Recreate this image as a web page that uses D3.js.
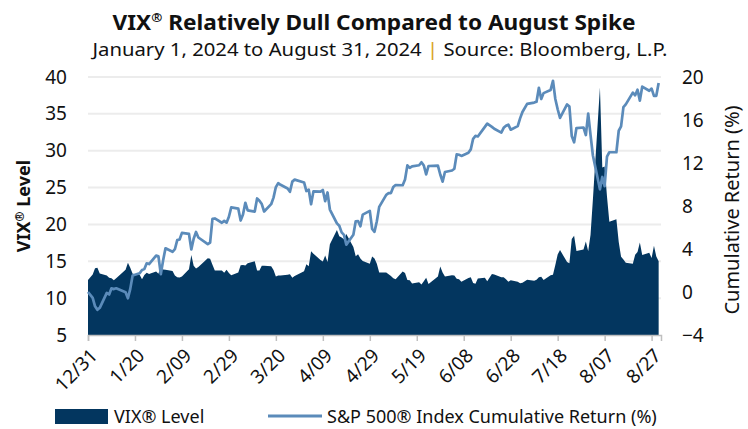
<!DOCTYPE html>
<html>
<head>
<meta charset="utf-8">
<script src="https://cdn.jsdelivr.net/npm/d3@7"></script>
<style>
  body { margin: 0; background: #fff; }
  text { font-family: "Noto Sans", "Open Sans", sans-serif; fill: #111; }
</style>
</head>
<body>
<div id="chart"></div>
<script>
// trading days (first row is the 12/31 base point)
const dates = [
  "2023-12-31",
  "2024-01-02","2024-01-03","2024-01-04","2024-01-05","2024-01-08","2024-01-09","2024-01-10","2024-01-11","2024-01-12",
  "2024-01-16","2024-01-17","2024-01-18","2024-01-19","2024-01-22","2024-01-23","2024-01-24","2024-01-25","2024-01-26",
  "2024-01-29","2024-01-30","2024-01-31",
  "2024-02-01","2024-02-02","2024-02-05","2024-02-06","2024-02-07","2024-02-08","2024-02-09","2024-02-12","2024-02-13",
  "2024-02-14","2024-02-15","2024-02-16","2024-02-20","2024-02-21","2024-02-22","2024-02-23","2024-02-26","2024-02-27",
  "2024-02-28","2024-02-29",
  "2024-03-01","2024-03-04","2024-03-05","2024-03-06","2024-03-07","2024-03-08","2024-03-11","2024-03-12","2024-03-13",
  "2024-03-14","2024-03-15","2024-03-18","2024-03-19","2024-03-20","2024-03-21","2024-03-22","2024-03-25","2024-03-26",
  "2024-03-27","2024-03-28",
  "2024-04-01","2024-04-02","2024-04-03","2024-04-04","2024-04-05","2024-04-08","2024-04-09","2024-04-10","2024-04-11",
  "2024-04-12","2024-04-15","2024-04-16","2024-04-17","2024-04-18","2024-04-19","2024-04-22","2024-04-23","2024-04-24",
  "2024-04-25","2024-04-26","2024-04-29","2024-04-30",
  "2024-05-01","2024-05-02","2024-05-03","2024-05-06","2024-05-07","2024-05-08","2024-05-09","2024-05-10","2024-05-13",
  "2024-05-14","2024-05-15","2024-05-16","2024-05-17","2024-05-20","2024-05-21","2024-05-22","2024-05-23","2024-05-24",
  "2024-05-28","2024-05-29","2024-05-30","2024-05-31",
  "2024-06-03","2024-06-04","2024-06-05","2024-06-06","2024-06-07","2024-06-10","2024-06-11","2024-06-12","2024-06-13",
  "2024-06-14","2024-06-17","2024-06-18","2024-06-20","2024-06-21","2024-06-24","2024-06-25","2024-06-26","2024-06-27",
  "2024-06-28",
  "2024-07-01","2024-07-02","2024-07-03","2024-07-05","2024-07-08","2024-07-09","2024-07-10","2024-07-11","2024-07-12",
  "2024-07-15","2024-07-16","2024-07-17","2024-07-18","2024-07-19","2024-07-22","2024-07-23","2024-07-24","2024-07-25",
  "2024-07-26","2024-07-29","2024-07-30","2024-07-31",
  "2024-08-01","2024-08-02","2024-08-05","2024-08-06","2024-08-07","2024-08-08","2024-08-09","2024-08-12","2024-08-13",
  "2024-08-14","2024-08-15","2024-08-16","2024-08-19","2024-08-20","2024-08-21","2024-08-22","2024-08-23","2024-08-26",
  "2024-08-27","2024-08-28","2024-08-29","2024-08-30"
];

const vix = [
  12.45,
  13.20,14.04,14.13,13.35,13.08,12.76,12.69,12.44,12.70,
  13.84,14.79,14.13,13.30,13.19,12.55,13.14,13.45,13.26,
  13.60,13.31,14.35,
  13.88,13.85,13.67,13.06,12.83,12.79,12.93,13.93,15.85,
  14.38,14.01,14.24,15.42,15.34,14.54,13.75,13.74,13.43,
  13.84,13.40,
  13.11,13.49,14.46,14.50,14.44,14.74,15.01,13.75,13.75,
  14.40,14.41,14.33,13.82,12.92,13.06,13.06,13.19,13.24,
  12.78,13.01,
  13.65,14.61,14.33,16.35,16.03,15.19,14.98,15.80,14.91,
  17.31,19.23,18.40,18.21,18.00,18.71,16.94,15.69,15.97,
  15.37,15.03,14.67,15.65,
  15.39,14.68,13.49,13.49,13.23,13.00,12.69,12.55,13.60,
  13.42,12.45,12.42,11.99,12.15,11.86,12.29,12.77,11.93,
  12.92,14.28,13.49,12.92,
  13.11,13.06,12.63,12.58,12.22,12.74,12.85,12.04,11.94,
  12.66,12.75,12.30,13.28,13.20,12.84,12.84,12.55,12.24,
  12.44,
  12.22,12.03,12.09,12.48,12.37,12.51,12.85,12.91,12.46,
  13.12,13.19,14.48,15.93,16.52,14.91,14.72,18.04,18.46,
  16.39,16.60,17.69,16.36,
  18.59,23.39,38.57,27.71,27.85,23.79,20.37,20.71,17.60,
  15.60,15.23,14.80,14.65,15.88,16.27,17.55,15.86,16.15,
  15.43,17.11,15.65,15.00
];

// S&P 500 cumulative total return, %
const spxReturn = [
  0.00,
  -0.55,-1.33,-1.66,-1.47,-0.08,-0.23,0.34,0.27,0.35,
  -0.02,-0.58,0.29,1.53,1.75,2.05,2.13,2.67,2.60,
  3.39,3.32,1.66,
  2.96,4.07,3.74,3.98,4.83,4.89,5.50,5.40,3.96,
  4.96,5.58,5.07,4.45,4.60,6.80,6.84,6.44,6.62,
  6.45,7.00,
  7.87,7.75,6.65,7.20,8.30,7.60,7.48,8.70,8.49,
  8.18,7.49,8.17,8.78,9.76,10.12,9.97,9.63,9.32,
  10.27,10.45,
  10.19,9.39,9.51,8.16,9.36,9.33,9.49,8.45,9.26,
  7.67,6.38,6.16,5.55,5.32,4.41,5.32,6.58,6.60,
  6.11,7.20,7.55,5.86,
  5.60,6.58,7.92,9.04,9.19,9.20,9.76,9.95,9.93,
  10.47,11.78,11.54,11.68,11.79,12.07,11.77,10.94,11.72,
  11.76,10.93,10.27,11.16,
  11.30,11.47,12.80,12.77,12.66,12.96,13.27,14.25,14.52,
  14.47,15.36,15.66,15.36,15.18,14.83,15.27,15.46,15.57,
  15.10,
  15.43,16.15,16.74,17.50,17.62,17.70,19.00,17.95,18.50,
  18.80,19.65,17.95,17.00,16.20,17.45,17.25,14.50,13.92,
  15.25,15.30,14.60,16.60,
  14.60,12.70,9.55,10.70,9.85,12.60,13.00,13.00,15.00,
  15.40,17.20,17.45,18.55,18.30,18.82,17.80,19.10,18.72,
  18.92,18.25,18.25,19.45
];

const leftTicks = [5, 10, 15, 20, 25, 30, 35, 40];
const rightTicks = [-4, 0, 4, 8, 12, 16, 20];

const margin = {top: 77, right: 87, bottom: 94, left: 88};
const width = 748 - margin.left - margin.right;
const height = 429 - margin.top - margin.bottom;

const parseDate = d3.timeParse("%Y-%m-%d");
const data = dates.map((d, i) => ({date: parseDate(d), vix: vix[i], ret: spxReturn[i]}));

const root = d3.select("#chart")
  .append("svg")
  .attr("width", 748)
  .attr("height", 429);

const svg = root.append("g")
  .attr("transform", `translate(${margin.left}, ${margin.top})`);

const start = parseDate("2023-12-31");
const end = parseDate("2024-08-31");

const x = d3.scaleTime().domain([start, end]).range([0, width]);
const y = d3.scaleLinear().domain([5, 40]).range([height, 0]);
const yR = d3.scaleLinear().domain([-4, 20]).range([height, 0]);

// title + subtitle
root.append("text")
  .attr("x", 374).attr("y", 30)
  .attr("text-anchor", "middle")
  .attr("textLength", 523).attr("lengthAdjust", "spacingAndGlyphs")
  .style("font-size", "22px").style("font-weight", "bold")
  .call(t => {
    t.append("tspan").text("VIX");
    t.append("tspan").attr("dy", -8).style("font-size", "13px").text("®");
    t.append("tspan").attr("dy", 8).text(" Relatively Dull Compared to August Spike");
  });

root.append("text")
  .attr("x", 380).attr("y", 56)
  .attr("text-anchor", "middle")
  .attr("textLength", 575).attr("lengthAdjust", "spacingAndGlyphs")
  .style("font-size", "18px")
  .call(t => {
    t.append("tspan").text("January 1, 2024 to August 31, 2024 ");
    t.append("tspan").style("fill", "#d9a326").text("|");
    t.append("tspan").text(" Source: Bloomberg, L.P.");
  });

// gridlines
svg.append("g")
  .selectAll("line")
  .data(leftTicks.slice(1))
  .join("line")
    .attr("x1", 0).attr("x2", width)
    .attr("y1", d => y(d)).attr("y2", d => y(d))
    .style("stroke", "#ececec")
    .style("stroke-width", 2);

// VIX area
svg.append("path")
  .datum(data)
  .attr("d", d3.area().x(d => x(d.date)).y0(y(5)).y1(d => y(d.vix)))
  .style("fill", "#03365f");

// S&P line
svg.append("path")
  .datum(data)
  .attr("d", d3.line().x(d => x(d.date)).y(d => yR(d.ret)))
  .style("fill", "none")
  .style("stroke", "#5b8bba")
  .style("stroke-width", 2.7)
  .style("stroke-linejoin", "round");

// x axis
const xTicks = d3.range(0, 13).map(i => d3.timeDay.offset(start, i * 20));
const xAxis = svg.append("g")
  .attr("transform", `translate(0, ${height})`)
  .call(d3.axisBottom(x).tickValues(xTicks).tickSize(6).tickFormat(""));
xAxis.select(".domain").style("stroke", "#bfbfbf").style("stroke-width", 1.5);
xAxis.selectAll(".tick line").style("stroke", "#bfbfbf").style("stroke-width", 1.5);

svg.append("g")
  .selectAll("text")
  .data(xTicks)
  .join("text")
    .attr("transform", d => `translate(${x(d) + 6}, ${height + 17}) rotate(-45)`)
    .attr("text-anchor", "end")
    .attr("dy", "0.35em")
    .style("font-size", "19px")
    .text(d3.timeFormat("%-m/%d"));

// left axis
const yAxis = svg.append("g")
  .call(d3.axisLeft(y).tickValues(leftTicks).tickSize(0).tickPadding(21));
yAxis.select(".domain").remove();
yAxis.selectAll("text").style("font-size", "19px").style("font-family", "'Noto Sans', sans-serif").style("fill", "#111");

// right axis
const yAxisR = svg.append("g")
  .attr("transform", `translate(${width}, 0)`)
  .call(d3.axisRight(yR).tickValues(rightTicks).tickSize(0).tickPadding(21));
yAxisR.select(".domain").remove();
yAxisR.selectAll("text").style("font-size", "19px").style("font-family", "'Noto Sans', sans-serif").style("fill", "#111");

// axis titles
root.append("text")
  .attr("transform", `translate(30, ${margin.top + height / 2}) rotate(-90)`)
  .attr("text-anchor", "middle")
  .style("font-size", "18px").style("font-weight", "bold")
  .call(t => {
    t.append("tspan").text("VIX");
    t.append("tspan").attr("dy", -6).style("font-size", "12px").text("®");
    t.append("tspan").attr("dy", 6).text(" Level");
  });

root.append("text")
  .attr("transform", `translate(739, ${margin.top + height / 2 + 4}) rotate(-90)`)
  .attr("text-anchor", "middle")
  .style("font-size", "20px")
  .text("Cumulative Return (%)");

// legend
const legend = root.append("g");
legend.append("rect")
  .attr("x", 55).attr("y", 409).attr("width", 53).attr("height", 15)
  .style("fill", "#03365f");
legend.append("text")
  .attr("x", 114).attr("y", 423)
  .style("font-size", "18px")
  .text("VIX® Level");
legend.append("line")
  .attr("x1", 268).attr("x2", 322).attr("y1", 416).attr("y2", 416)
  .style("stroke", "#5b8bba").style("stroke-width", 3);
legend.append("text")
  .attr("x", 327).attr("y", 423)
  .style("font-size", "18px")
  .text("S&P 500® Index Cumulative Return (%)");
</script>
</body>
</html>
